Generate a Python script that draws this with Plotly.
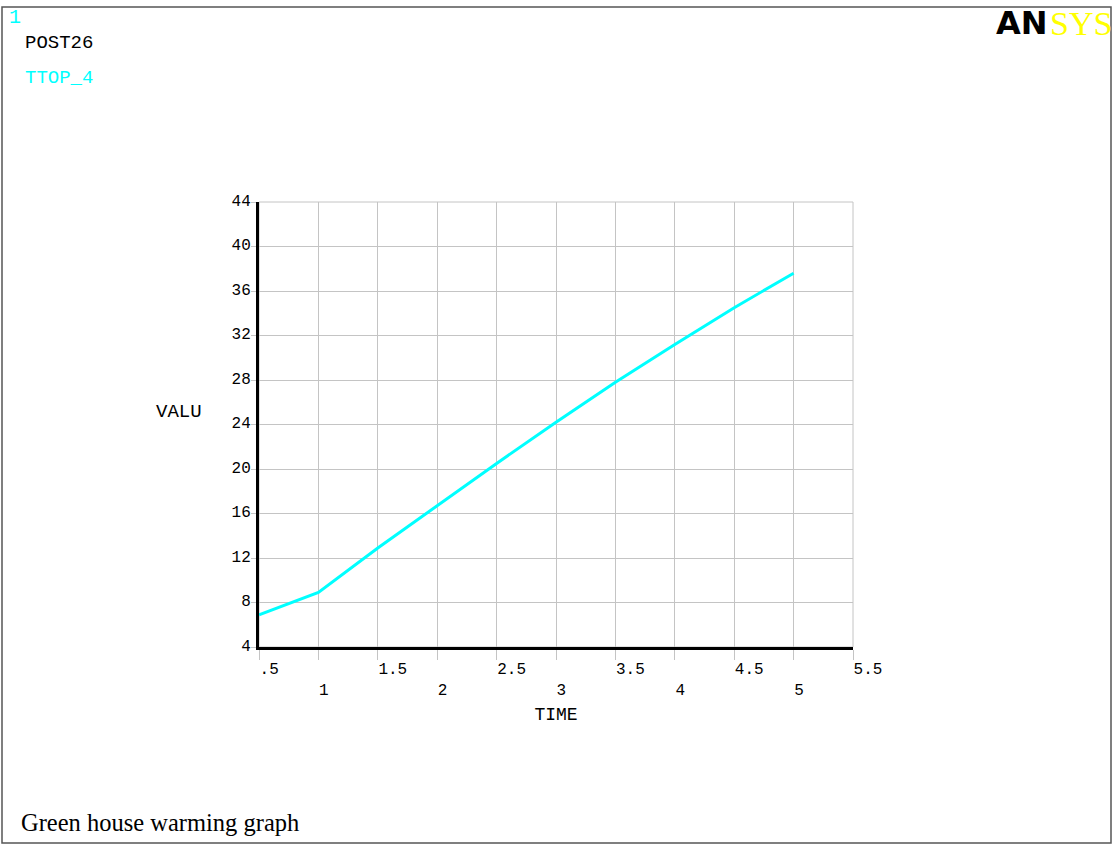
import plotly.graph_objects as go

# Data
time_vals = [0.5, 1.0, 1.5, 2.0, 2.5, 3.0, 3.5, 4.0, 4.5, 5.0]
ttop_4 = [6.9, 8.9, 12.9, 16.7, 20.5, 24.2, 27.8, 31.2, 34.5, 37.6]

x_tickvals = [0.5, 1, 1.5, 2, 2.5, 3, 3.5, 4, 4.5, 5, 5.5]
x_ticklabels = [".5", "1", "1.5", "2", "2.5", "3", "3.5", "4", "4.5", "5", "5.5"]
y_tickvals = [4, 8, 12, 16, 20, 24, 28, 32, 36, 40, 44]
y_ticklabels = ["4", "8", "12", "16", "20", "24", "28", "32", "36", "40", "44"]

W, H = 1114, 847
L, R, T, B = 259, 853, 202, 647  # plot area in pixels


def px(p):
    return (p - L) / (R - L)


def py(p):
    return (B - p) / (B - T)


NB = "\u00a0"


def fmt_x(lbl, v):
    s = lbl + NB * (3 - len(lbl))
    if float(v).is_integer():
        return NB + "<br>" + s
    return s


MONO = "Liberation Mono, Courier New, monospace"
GRID = "#c4c4c4"

fig = go.Figure()
fig.add_trace(go.Scatter(
    x=time_vals, y=ttop_4, mode="lines",
    line=dict(color="#00FFFF", width=3),
    name="TTOP_4", showlegend=False, hoverinfo="x+y",
))

fig.update_layout(
    width=W, height=H, autosize=False,
    margin=dict(l=L, r=W - R, t=T, b=H - B, pad=0),
    paper_bgcolor="white", plot_bgcolor="white",
    font=dict(family=MONO, size=16, color="black"),
    xaxis=dict(
        range=[0.5, 5.5], tickmode="array", tickvals=x_tickvals,
        ticktext=[fmt_x(l, v) for l, v in zip(x_ticklabels, x_tickvals)],
        showgrid=True, gridcolor=GRID, gridwidth=1,
        showline=True, linecolor="black", linewidth=3,
        ticks="outside", ticklen=10, tickcolor=GRID, tickwidth=1,
        ticklabelshift=15, ticklabelstandoff=-5,
        zeroline=False,
        title=dict(text="TIME", font=dict(family=MONO, size=18), standoff=9),
        tickfont=dict(family=MONO, size=16),
    ),
    yaxis=dict(
        range=[4, 44], tickmode="array", tickvals=y_tickvals, ticktext=y_ticklabels,
        showgrid=True, gridcolor=GRID, gridwidth=1,
        showline=True, linecolor="black", linewidth=3,
        ticks="outside", ticklen=5, tickcolor=GRID, tickwidth=1,
        ticklabelstandoff=-3, ticklabelshift=-2,
        zeroline=False,
        tickfont=dict(family=MONO, size=16),
    ),
)

# Gray frame around plot area (top and right edges)
fig.add_shape(type="rect", xref="paper", yref="paper", x0=0, x1=1, y0=0, y1=1,
              line=dict(color=GRID, width=1), layer="below")
# Outer window border
fig.add_shape(type="rect", xref="paper", yref="paper",
              x0=px(2), x1=px(1111), y0=py(843), y1=py(7),
              line=dict(color="#555555", width=1.5), layer="above")

annots = [
    dict(text="VALU", x=px(204), y=py(412), xanchor="right", yanchor="middle",
         font=dict(family=MONO, size=19, color="black")),
    dict(text="1", x=px(7), y=py(17), xanchor="left", yanchor="middle",
         font=dict(family=MONO, size=20, color="#00FFFF")),
    dict(text="POST26", x=px(23), y=py(43), xanchor="left", yanchor="middle",
         font=dict(family=MONO, size=19, color="black")),
    dict(text="TTOP_4", x=px(23), y=py(78), xanchor="left", yanchor="middle",
         font=dict(family=MONO, size=19, color="#00FFFF")),
    dict(text="<b>AN</b>", x=px(1050), y=py(23), xanchor="right", yanchor="middle",
         font=dict(family="DejaVu Sans, Arial Black", size=32, color="black")),
    dict(text="SYS", x=px(1048), y=py(23), xanchor="left", yanchor="middle",
         font=dict(family="Liberation Serif, Times New Roman, serif", size=34, color="#FFFF00")),
    dict(text="Green house warming graph", x=px(19), y=py(822), xanchor="left", yanchor="middle",
         font=dict(family="Liberation Serif, Times New Roman, serif", size=24.5, color="black")),
]
for a in annots:
    fig.add_annotation(xref="paper", yref="paper", showarrow=False, **a)

fig.write_html(
    "out.html",
    config={"displayModeBar": False},
    post_script="document.body.style.margin='0';document.body.style.overflow='hidden';",
)
